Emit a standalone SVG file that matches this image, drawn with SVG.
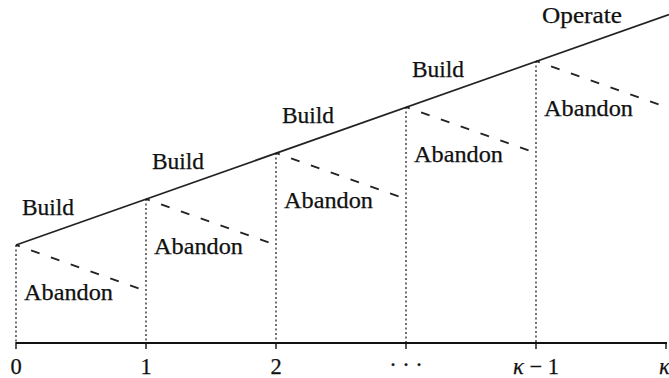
<svg xmlns="http://www.w3.org/2000/svg" width="669" height="378" viewBox="0 0 669 378">
<style>
text{font-family:"Liberation Serif","Times New Roman",serif;font-size:22.5px;fill:#111;stroke:#111;stroke-width:0.25}
.main{stroke:#222;stroke-width:1.7;fill:none}
.dash{stroke:#222;stroke-width:1.7;fill:none;stroke-dasharray:9 12;stroke-dashoffset:5}
.dot{stroke:#111;stroke-width:1.2;fill:none;stroke-dasharray:2 2.5}
.axis{stroke:#111;stroke-width:2;fill:none}
.tick{stroke:#111;stroke-width:1.4}
</style>
<rect width="669" height="378" fill="#fff"/>
<g id="connectors">
<line class="main" x1="16" y1="245" x2="669" y2="14.5"/>
<line class="dash" x1="16" y1="245" x2="146" y2="291"/>
<line class="dash" x1="146" y1="199" x2="276" y2="245"/>
<line class="dash" x1="276" y1="153" x2="406" y2="199"/>
<line class="dash" x1="406" y1="107" x2="536" y2="153"/>
<line class="dash" x1="536" y1="61" x2="666" y2="107"/>
<line class="dot" x1="16" y1="245" x2="16" y2="342"/>
<line class="dot" x1="146" y1="199" x2="146" y2="342"/>
<line class="dot" x1="276" y1="153" x2="276" y2="342"/>
<line class="dot" x1="406" y1="107" x2="406" y2="342"/>
<line class="dot" x1="536" y1="61" x2="536" y2="342"/>
</g>
<g id="axis">
<line class="axis" x1="16" y1="343" x2="667" y2="343"/>
<line class="tick" x1="16" y1="342" x2="16" y2="349"/>
<line class="tick" x1="146" y1="342" x2="146" y2="349"/>
<line class="tick" x1="276" y1="342" x2="276" y2="349"/>
<line class="tick" x1="406" y1="342" x2="406" y2="349"/>
<line class="tick" x1="536" y1="342" x2="536" y2="349"/>
<line class="tick" x1="666" y1="342" x2="666" y2="349"/>
<text x="16" y="374" text-anchor="middle">0</text>
<text x="146" y="374" text-anchor="middle">1</text>
<text x="276" y="374" text-anchor="middle">2</text>
<text x="406" y="372" text-anchor="middle">· · ·</text>
<text x="536" y="374" text-anchor="middle"><tspan font-style="italic">κ</tspan> − 1</text>
<text x="659" y="374" font-style="italic">κ</text>
</g>
<g id="stage0">
<text x="22" y="215" textLength="52" lengthAdjust="spacingAndGlyphs">Build</text>
<text x="24" y="300" textLength="89" lengthAdjust="spacingAndGlyphs">Abandon</text>
</g>
<g id="stage1">
<text x="152" y="169" textLength="52" lengthAdjust="spacingAndGlyphs">Build</text>
<text x="154" y="254" textLength="89" lengthAdjust="spacingAndGlyphs">Abandon</text>
</g>
<g id="stage2">
<text x="282" y="123" textLength="52" lengthAdjust="spacingAndGlyphs">Build</text>
<text x="284" y="208" textLength="89" lengthAdjust="spacingAndGlyphs">Abandon</text>
</g>
<g id="stage3">
<text x="412" y="77" textLength="52" lengthAdjust="spacingAndGlyphs">Build</text>
<text x="414" y="162" textLength="89" lengthAdjust="spacingAndGlyphs">Abandon</text>
</g>
<g id="stage4">
<text x="542" y="23" textLength="80" lengthAdjust="spacingAndGlyphs">Operate</text>
<text x="544" y="116" textLength="89" lengthAdjust="spacingAndGlyphs">Abandon</text>
</g>
</svg>
